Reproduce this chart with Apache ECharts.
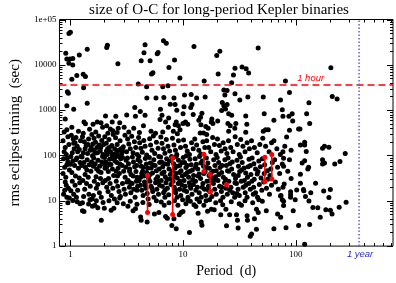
<!DOCTYPE html>
<html><head><meta charset="utf-8">
<script src="https://cdn.jsdelivr.net/npm/echarts/dist/echarts.min.js"></script>
<style>html,body{margin:0;padding:0;background:#fff}#c{width:396px;height:283px}</style>
</head><body><div id="c"></div>
<script>
// ---------- DATA ----------
const TITLE = 'size of O-C for long-period Kepler binaries';
const X_NAME = 'Period  (d)';
const Y_NAME = 'rms eclipse timing  (sec)';
const X_MIN = 0.8, X_MAX = 730, Y_MIN = 1, Y_MAX = 100000;
const HOUR_SEC = 3600, YEAR_DAYS = 365;
const xMajorTicks = [1, 10, 100];
const xMinorTicks = [0.9, 2, 3, 4, 5, 6, 7, 8, 9, 20, 30, 40, 50, 60, 70, 80, 90, 200, 300, 400, 500, 600, 700];
const yMajorTicks = [1, 10, 100, 1000, 10000, 100000];
const yMinorTicks = [2,3,4,5,6,7,8,9,20,30,40,50,60,70,80,90,200,300,400,500,600,700,800,900,
  2000,3000,4000,5000,6000,7000,8000,9000,20000,30000,40000,50000,60000,70000,80000,90000];

// sparse points above ~500 s
const upperPoints = [
  [0.97,49000],[1.0,52000],[0.91,18000],[0.93,13500],[0.99,13500],[1.05,13800],[0.97,10800],[1.05,9900],
  [1.03,4800],[1.14,5800],[1.2,16500],[1.41,22000],[1.3,6200],[1.36,5500],[1.31,3100],[0.96,2350],[0.94,2550],
  [0.93,1250],[1.07,1050],[1.41,1420],[0.9,635],[1.32,550],[1.36,500],[2.13,27000],[2.1,24000],[2.64,10500],
  [4.6,27700],[4.5,18500],[4.25,12300],[5.1,12300],[5.9,17500],[6.0,18700],[5.25,6250],[5.4,6700],[4.0,3750],
  [4.75,3300],[4.77,1850],[6.7,34000],[7.1,30000],[7.5,8700],[8.4,12800],[9.37,5100],[12.5,25500],[15.4,4400],
  [6.6,3300],[7.35,3450],
  [0.93,370],[1.59,490],[1.73,550],[1.87,530],[2.05,740],[2.1,450],[2.26,385],[2.53,730],[2.74,530],[2.66,400],
  [3.16,785],[3.73,1150],[3.78,730],[4.17,935],[4.6,770],[5.75,1850],[6.75,1900],[7.7,1350],[6.3,1050],[6.5,770],
  [6.25,620],[7.0,550],[7.45,670],[2.35,550],[8.3,1850],
  [10.3,2150],[11.8,2200],[13.2,1850],[15.7,1950],[8.5,1340],[10.2,1190],[12,1340],[11.7,1150],[10,830],[12.3,800],
  [14.7,850],[14.3,700],[8.7,550],[8.5,475],[9.1,450],[9.4,370],[8.2,340],[10,510],[10.5,550],[11,490],[13.8,600],
  [14.4,475],[17.8,550],[18.4,510],[15.9,435],[16.7,400],[20.3,575],[14.2,315],[16.2,290],[15.2,315],[8.8,990],
  [19.9,16000],[21.2,20000],[46.4,23500],[20.5,6250],[28.9,8400],[33.4,8900],[36.3,8150],[38.2,6600],[28,5950],
  [27,4000],[23,2780],[24.6,2700],[23.5,2150],[28.9,2300],[37.6,1950],[31.9,1680],[51.5,1950],[81,4400],[88,2450],
  [73.3,1680],[76,1020],[131,1460],[125,830],[133,510],[205,8650],[211,2000],[233,1770],
  [22.3,1470],[23,1250],[24.6,1340],[23.8,1060],[22,980],[27,770],[25.4,830],[36,740],[52.5,830],[77,730],
  [64,600],[25,510],[26.2,450],[29.4,510],[28.8,400],[36.8,490],[51.5,340],[54,370],[57,370],[25.4,340],[36,325],[18,635]
];

// main cloud, short periods
const cloudShort = [
  [0.88,330],[0.86,210],[0.9,150],[0.95,260],[0.88,120],[0.97,175],[0.92,105],[0.87,85],[0.93,62],[0.98,48],[0.86,40],
  [0.91,33],[0.95,72],[0.89,55],[0.9,26],[0.96,19],[0.87,14],[0.93,12],[0.92,22],[0.98,11.5],[0.89,17],
  [1.03,420],[1.18,340],[1.02,280],[1.06,230],[1.1,190],[1.15,160],[1.2,135],[1.04,115],[1.12,250],[1.23,210],[1.08,140],
  [1.01,95],[1.05,75],[1.09,60],[1.14,88],[1.18,52],[1.22,70],[1.03,42],[1.11,35],[1.2,32],[1.04,27],[1.1,22],[1.16,17],
  [1.07,14],[1.21,25],[1.13,12],[1.01,16.6],
  [1.3,310],[1.48,380],[1.28,260],[1.33,200],[1.38,165],[1.45,230],[1.5,130],[1.55,290],[1.3,115],[1.42,110],[1.58,180],
  [1.27,92],[1.32,70],[1.36,55],[1.41,80],[1.47,62],[1.52,45],[1.57,98],[1.35,38],[1.44,33],[1.54,72],[1.29,28],[1.34,18],
  [1.39,24],[1.46,14],[1.5,21],[1.56,11],[1.31,12.5],
  [1.68,330],[1.93,420],[1.62,240],[1.67,195],[1.72,150],[1.78,270],[1.84,125],[1.9,215],[1.95,105],[1.65,112],[1.8,170],
  [1.61,88],[1.66,66],[1.71,50],[1.76,78],[1.82,58],[1.87,42],[1.93,95],[1.98,64],[1.69,34],[1.85,31],[1.63,27],[1.7,19],
  [1.75,23],[1.81,15],[1.88,12],[1.94,25],[1.6,13],
  [2.15,310],[2.38,350],[2.02,260],[2.08,185],[2.14,140],[2.2,225],[2.27,120],[2.33,165],[2.4,290],[2.45,108],[2.12,105],
  [2.01,90],[2.06,72],[2.11,56],[2.17,44],[2.23,82],[2.29,63],[2.36,50],[2.42,36],[2.48,76],[2.18,31],[2.04,28],[2.1,20],
  [2.16,16],[2.25,24],[2.31,13],[2.38,19],[2.46,11],
  [2.6,320],[3.0,420],[2.52,245],[2.6,175],[2.68,130],[2.76,210],[2.85,110],[2.95,155],[3.05,280],[3.15,120],[2.51,94],
  [2.58,70],[2.65,52],[2.72,40],[2.8,85],[2.88,60],[2.97,45],[3.06,33],[3.12,78],[2.62,35],[2.55,27],[2.63,21],[2.7,16],
  [2.78,12.5],[2.9,24],[3.0,18],[3.08,14],[3.18,26],[2.74,11.5],
  [3.3,330],[3.65,400],[3.22,230],[3.3,180],[3.4,140],[3.5,265],[3.6,115],[3.7,200],[3.8,150],[3.92,105],[3.21,88],
  [3.28,66],[3.36,50],[3.45,38],[3.55,92],[3.63,72],[3.72,56],[3.82,44],[3.9,33],[3.98,80],[3.25,28],[3.34,20],[3.44,15],
  [3.53,24],[3.65,18],[3.75,12],[3.85,27],[3.95,21]
];

// main cloud, medium periods
const cloudMid = [
  [4.1,320],[4.45,450],[4.03,250],[4.12,190],[4.22,145],[4.35,118],[4.48,215],[4.6,160],[4.75,102],[4.05,95],[4.15,74],
  [4.25,58],[4.38,45],[4.5,35],[4.62,86],[4.72,65],[4.85,52],[4.95,31],[4.3,40],[4.08,28],[4.18,22],[4.3,17],[4.42,13],
  [4.55,26],[4.68,19],[4.8,14.5],[4.9,11],
  [5.2,340],[5.7,310],[5.05,235],[5.15,170],[5.3,130],[5.45,270],[5.6,110],[5.8,195],[6.0,145],[5.02,90],[5.12,68],
  [5.22,53],[5.35,41],[5.5,80],[5.65,60],[5.8,46],[5.95,34],[6.1,95],[6.2,70],[5.08,27],[5.2,21],[5.38,16],[5.52,12],
  [5.7,25],[5.85,18],[6.05,14],[6.2,22],
  [6.6,330],[7.4,420],[6.35,255],[6.5,185],[6.7,140],[6.9,112],[7.1,225],[7.35,160],[7.6,125],[6.32,92],[6.45,72],
  [6.6,56],[6.78,43],[6.95,34],[7.15,85],[7.3,64],[7.5,50],[7.7,38],[7.9,95],[6.4,28],[6.55,21],[6.72,15],[6.9,12],
  [7.05,25],[7.25,19],[7.45,13.5],[7.8,23],[6.8,8],
  [8.9,300],[8.05,240],[8.3,170],[8.55,130],[8.8,105],[9.1,210],[9.5,150],[8.1,88],[8.25,66],[8.45,52],[8.65,40],
  [8.9,32],[9.1,78],[9.35,60],[9.6,46],[9.85,35],[8.7,95],[8.15,27],[8.35,20],[8.6,15],[8.85,12],[9.05,24],[9.3,18],
  [9.55,13],[9.8,22],[9.9,10.5],
  [10.1,220],[10.5,160],[10.9,125],[11.4,105],[11.9,190],[12.3,140],[10.05,90],[10.3,70],[10.6,54],[10.9,42],[11.2,33],
  [11.5,82],[11.8,62],[12.1,48],[12.4,36],[10.7,98],[10.2,28],[10.45,21],[10.75,16],[11.05,12],[11.35,25],[11.7,19],
  [12.0,14],[12.35,23],[11.0,10.5],
  [12.7,230],[13.2,170],[13.8,130],[14.4,108],[15.0,200],[15.6,150],[12.8,85],[13.1,64],[13.5,50],[13.9,39],[14.3,31],
  [14.8,75],[15.2,58],[15.7,44],[14.0,95],[12.9,27],[13.4,20],[13.9,15],[14.5,12],[15.0,24],[15.5,18],[15.9,13],
  [13.3,11],[13.0,7.5],[15.3,8]
];

// main cloud, long periods
const cloudLong = [
  [16.2,210],[16.9,150],[17.6,120],[18.3,250],[19.0,175],[19.6,105],[16.1,88],[16.6,68],[17.1,52],[17.6,40],[18.1,32],
  [18.7,80],[19.2,60],[19.7,46],[17.0,36],[16.3,27],[16.8,21],[17.4,16],[18.0,12.5],[18.6,24],[19.1,18],[19.7,14],
  [17.2,10.5],[16.5,5.9],
  [20.2,230],[21.0,165],[21.8,125],[22.7,190],[23.6,140],[24.5,110],[20.1,90],[20.7,70],[21.3,54],[22.0,42],[22.8,33],
  [23.5,80],[24.2,60],[24.8,46],[20.4,28],[21.1,21],[21.9,16],[22.6,12],[23.3,25],[24.0,19],[24.7,14],[21.5,10],[24.0,6.5],
  [25.3,210],[26.5,150],[27.8,120],[29.0,260],[30.3,175],[31.5,105],[25.1,88],[26.0,66],[27.0,50],[28.1,38],[29.2,31],
  [30.1,78],[31.0,58],[31.8,44],[25.5,27],[26.6,20],[27.6,15],[28.7,12],[29.8,24],[30.8,18],[31.6,13],
  [32.5,225],[34.0,160],[35.5,120],[37.0,190],[38.8,140],[32.3,92],[33.5,70],[34.8,53],[36.0,41],[37.3,33],[38.5,82],
  [39.6,60],[32.8,27],[34.2,20],[35.6,15],[37.0,12],[38.2,24],[39.5,18],[33.0,8],
  [40.5,210],[43.0,150],[45.5,115],[48.0,175],[41.0,88],[42.5,66],[44.0,50],[45.5,39],[47.0,75],[48.5,56],[40.8,27],
  [42.3,20],[44.0,15],[45.8,12],[47.5,23],
  [51,240],[54,160],[58,120],[61,190],[50.5,85],[53,62],[56,46],[59,36],[62,70],[52,26],[55,19],[58.5,14],[61,22],
  [64,210],[68,140],[73,105],[65,80],[69,55],[72,40],[76,65],[66,26],[70,18],[74,13]
];

// extra cloud points in the densest parts
const cloudDense = [
  [1.07,185],[1.16,120],[1.24,95],[1.35,140],[1.43,175],[1.53,150],[1.62,130],[1.74,115],[1.86,150],[1.97,175],
  [2.09,125],[2.22,150],[2.35,100],[2.47,140],[2.58,115],[2.7,95],[2.82,140],[2.92,125],[1.12,80],[1.26,60],[1.4,48],
  [1.6,58],[1.78,45],[1.9,72],[2.03,52],[2.2,64],[2.4,85],[2.55,45],[2.75,65],[2.9,90],[3.1,55],[1.0,64],[0.94,88],
  [3.35,45],[3.6,35],[3.88,60],[4.2,33],[4.45,55],[4.75,42],[5.1,38],[5.4,62],[5.75,30],[6.15,50],[6.5,40],[6.85,66],
  [7.2,30],[7.55,75],[8.0,45],[8.4,34],[8.8,58],[9.3,42],[9.8,70],[10.4,38],[10.9,60],[11.5,45],[12.2,29],[12.9,55],
  [13.6,35],[14.4,68],[15.3,40],[16.3,54],[17.3,28],[18.4,45],[19.4,34],[3.4,25],[3.9,17],[4.6,22],[5.3,19],[6.0,27],
  [6.9,17],[7.7,30],[8.5,17],[9.4,27],[10.2,17],[11.6,21],[13.0,17],[14.8,20],[16.8,17],[18.8,29],
  [0.95,9],[1.05,10.2],[1.15,9.5],[1.45,8.5],[1.7,10],[1.95,9.2],[2.2,10],[2.6,9],[3.4,9.8],[3.9,8.4],[4.4,9.2],
  [5.0,8.3],[5.8,10],[6.4,9.4],[7.5,9],[8.4,10],[9.0,8],[10.6,8.6],[11.6,9.8],[12.5,8.2],[14.0,9.5],[16.0,10],
  [19.5,9],[22.5,8.2],[26.8,9.5],[31.5,8.6],[35.5,10],[41.5,9],[47,10.5],
  [20.8,38],[22.2,60],[23.8,30],[25.5,45],[27.3,72],[28.9,25],[30.9,36],[33.2,48],[35.0,28],[37.8,56],[40.0,38],
  [42.8,30],[46.2,44],[49.2,32],[52.5,40],[56.5,30],[60,50],[22,20],[26,17],[30,14.5],[36,22],[42,14],[50,17]
];

// sparse points below ~10 s
const lowPoints = [
  [1.28,9],[1.22,8.6],[1.32,5.8],[1.28,6],[1.57,7.6],[1.65,8],[2.0,6.8],[2.3,6.2],[2.43,6.8],[2.95,8.6],[3.24,7.6],
  [1.88,3.7],[1.49,10.6],[1.75,7],[3.6,6],[3.78,6.7],[4.2,4.4],[4.25,3.7],[4.8,3.4],[5.57,5.1],[6.1,5.5],[7.0,4.5],
  [7.25,4.1],[7.95,2.85],[8.7,2.4],[8.3,4.0],[9.25,4.9],[9.6,5.5],[9.98,5.8],[11.4,2.0],[13.6,5.3],[14.5,3.4],[14.7,2.9],
  [17.8,6.5],[18.9,6.3],[21.6,4.9],[24.3,2.8],[25.9,4.9],[29.8,4.9],[30.4,3.7],[30.8,2.5],[37,4.7],[37.3,3.7],
  [39.5,1.65],[40.5,1.85],[43,4.0],[44.8,6.5],[46.5,5.5],[44.8,2.35],[50.5,9.8],[54.8,6],[69,5.1],[73.5,4.35],
  [76,10.6],[73.3,12.8],[64,2.4]
];

// sparse long-period points
const rightPoints = [
  [93,830],[87,730],[94,575],[88,360],[106,385],[109,385],[83,255],[120,195],[120,170],[110,170],[80,160],[91,130],
  [124,123],[77,120],[180,160],[173,145],[197,152],[275,110],[78,87],[88,80],[120,76],[114,68],[173,80],[180,68],
  [173,65],[222,65],[247,74],[78,58],[130,55],[85,45],[110,38.5],[128,50],[79,23.6],[91,31],[77,20],[90,15.9],
  [90,13.5],[90,12],[102,17.2],[110,24.5],[117,17.7],[118,16.6],[122,12.4],[136,15],[150,24.5],[78,9.8],[99,10.6],
  [131,9.9],[78,7.9],[95,6],[142,7.1],[157,7],[177,16.4],[203,17.7],[197,11.8],[165,4.35],[185,6.3],[203,6.2],
  [210,5.1],[243,7.2],[280,9.3],[106,2.86],[133,3.0],[82,2.55],[120,1.1]
];

// red ranges: [period, upper rms, lower rms]
const redRanges = [[4.84,36.7,5.54],[8.08,87.7,4.95],[15.3,106,44.5],[17.4,37.9,15.6],[53.2,90.8,26.6],[61.3,105,30.2]];
const redSingles = [[24.3,23]];

// ---------- CHART ----------
const SERIF = '"Liberation Serif","Times New Roman",serif';
const SANS = '"Liberation Sans",Arial,sans-serif';
const allPoints = [].concat(upperPoints, cloudShort, cloudMid, cloudLong, cloudDense, lowPoints, rightPoints);

function powLabel(v) {
  const lg = Math.log10(v);
  if (Math.abs(lg - Math.round(lg)) > 1e-6) return '';
  const n = Math.round(v);
  return n >= 100000 ? '1e+05' : String(n);
}

const series = [{
  type: 'scatter', data: allPoints, symbol: 'circle', symbolSize: 5,
  itemStyle: {color: '#000', opacity: 1}, z: 2, silent: true
}];
redRanges.forEach(r => {
  series.push({
    type: 'line', data: [[r[0], r[1]], [r[0], r[2]]], symbol: 'circle', symbolSize: 5,
    showSymbol: true, lineStyle: {color: '#ff0000', width: 1.6, opacity: 1},
    itemStyle: {color: '#ff0000', opacity: 1}, z: 4, silent: true
  });
});
series.push({type: 'scatter', data: redSingles, symbolSize: 5, itemStyle: {color: '#ff0000', opacity: 1}, z: 4, silent: true});
series.push({
  type: 'line', data: [[X_MIN, HOUR_SEC], [X_MAX, HOUR_SEC]], symbol: 'none',
  lineStyle: {color: '#ff0000', width: 1.6, type: [7, 4]}, z: 5, silent: true
});
series.push({
  type: 'line', data: [[YEAR_DAYS, Y_MIN], [YEAR_DAYS, Y_MAX]], symbol: 'none',
  lineStyle: {color: '#5c5cff', width: 1.5, type: [1.5, 2]}, z: 5, silent: true
});
series.push({
  type: 'custom', data: [[1, 1]], z: 10, silent: true,
  renderItem: function (params, api) {
    const ch = [];
    const bl = api.coord([X_MIN, Y_MIN]), tr = api.coord([X_MAX, Y_MAX]);
    const left = bl[0], bottom = bl[1], right = tr[0], top = tr[1];
    function seg(x1, y1, x2, y2) {
      ch.push({type: 'line', shape: {x1: x1, y1: y1, x2: x2, y2: y2}, style: {stroke: '#000', lineWidth: 1}});
    }
    function xt(v, len) {
      const x = Math.round(api.coord([v, Y_MIN])[0]) + 0.5;
      seg(x, bottom, x, bottom - len); seg(x, top, x, top + len);
    }
    function yt(v, len) {
      const y = Math.round(api.coord([X_MIN, v])[1]) + 0.5;
      seg(left, y, left + len, y); seg(right, y, right - len, y);
    }
    xMajorTicks.forEach(v => xt(v, 6)); xMinorTicks.forEach(v => xt(v, 3));
    yMajorTicks.forEach(v => yt(v, 6)); yMinorTicks.forEach(v => yt(v, 3));
    const hp = api.coord([103, HOUR_SEC]);
    ch.push({type: 'text', x: hp[0], y: hp[1] - 2,
      style: {text: '1 hour', fill: '#ff0000', font: 'italic 9.5px ' + SANS, align: 'left', verticalAlign: 'bottom'}});
    const yp = api.coord([YEAR_DAYS, Y_MIN]);
    ch.push({type: 'text', x: yp[0] + 1, y: yp[1] + 3,
      style: {text: '1 year', fill: '#2a2ad0', font: 'italic 9.5px ' + SANS, align: 'center', verticalAlign: 'top'}});
    return {type: 'group', children: ch};
  }
});

const chart = echarts.init(document.getElementById('c'), null, {renderer: 'canvas'});
chart.setOption({
  animation: false,
  backgroundColor: '#fff',
  title: {text: TITLE, left: 219, top: 3, padding: 0, textAlign: 'center',
    textStyle: {fontFamily: SERIF, fontSize: 15, fontWeight: 'normal', color: '#000', lineHeight: 15}},
  grid: {left: 42.5, top: 19.5, width: 353, height: 237, show: true, borderColor: '#000', borderWidth: 1,
    backgroundColor: 'transparent', containLabel: false},
  xAxis: {type: 'log', logBase: 10, min: X_MIN, max: X_MAX,
    axisLine: {show: false}, axisTick: {show: false}, splitLine: {show: false}, minorTick: {show: false},
    axisLabel: {fontFamily: SERIF, fontSize: 9, color: '#000', margin: 4, formatter: powLabel, hideOverlap: false},
    name: X_NAME, nameLocation: 'middle', nameGap: 10,
    nameTextStyle: {fontFamily: SERIF, fontSize: 14, color: '#000', verticalAlign: 'top'}},
  yAxis: {type: 'log', logBase: 10, min: Y_MIN, max: Y_MAX,
    axisLine: {show: false}, axisTick: {show: false}, splitLine: {show: false}, minorTick: {show: false},
    axisLabel: {fontFamily: SERIF, fontSize: 9, color: '#000', margin: 3, formatter: powLabel, hideOverlap: false},
    name: Y_NAME, nameLocation: 'middle', nameGap: 27,
    nameTextStyle: {fontFamily: SERIF, fontSize: 15, color: '#000'}},
  series: series
});
</script></body></html>
